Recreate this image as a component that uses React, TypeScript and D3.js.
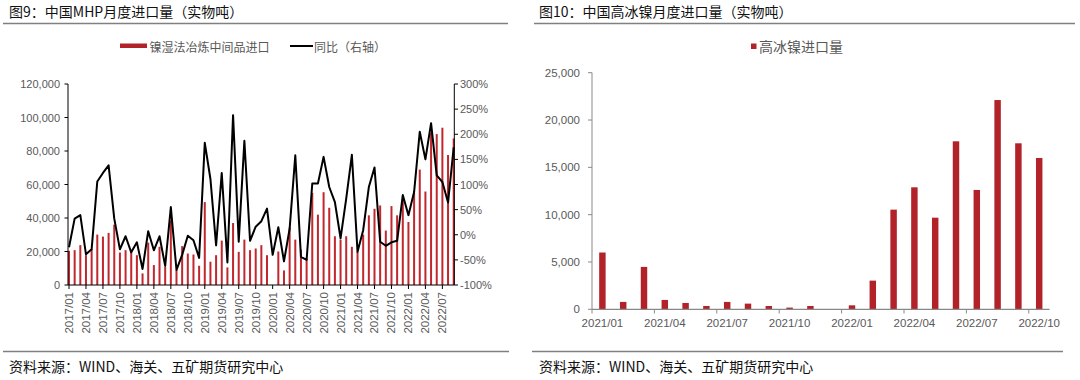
import React from 'react';
import * as d3 from 'd3';

// ---------- Chart 9 data: MHP monthly imports ----------
const mhpMonths = [
  '2017/01','2017/02','2017/03','2017/04','2017/05','2017/06','2017/07','2017/08','2017/09','2017/10','2017/11','2017/12',
  '2018/01','2018/02','2018/03','2018/04','2018/05','2018/06','2018/07','2018/08','2018/09','2018/10','2018/11','2018/12',
  '2019/01','2019/02','2019/03','2019/04','2019/05','2019/06','2019/07','2019/08','2019/09','2019/10','2019/11','2019/12',
  '2020/01','2020/02','2020/03','2020/04','2020/05','2020/06','2020/07','2020/08','2020/09','2020/10','2020/11','2020/12',
  '2021/01','2021/02','2021/03','2021/04','2021/05','2021/06','2021/07','2021/08','2021/09','2021/10','2021/11','2021/12',
  '2022/01','2022/02','2022/03','2022/04','2022/05','2022/06','2022/07','2022/08','2022/09',
];
const mhpImports: (number | null)[] = [
  20400, 20800, 23800, 17800, 21400, 30100, 28900, 31100, 36000, 19400, 20800, 19800,
  17800, 6900, 25300, 11900, 22800, 10900, 38600, 8900, 23200, 18800, 18200, 11500,
  49500, 13900, 17800, 26500, 10500, 37000, 19800, 27100, 20800, 21800, 23800, 17800,
  null, 20000, 8700, 34300, 27100, 21200, 15800, 55000, 42000, 55400, 46100, 29100,
  27100, 29100, 22800, 19800, 30100, 41600, 45500, 47500, 32500, 47100, 41600, 50500,
  37600, 54900, 68900, 55800, 91000, 90100, 93900, 77600, 87500,
];
const mhpYoY = [
  -25, 32, 39, -39, -29, 106, 123, 138, 32, -29, -3, -35,
  -15, -68, 7, -31, -3, -62, 55, -70, -40, -2, -11, -46,
  183, 111, -21, 123, -55, 238, -14, 187, -12, 16, 27, 52,
  -40, 15, -53, 12, 158, -44, -50, 102, 102, 155, 95, 65,
  -7, 72, 159, -34, 9, 95, 134, -14, -22, -15, -12, 79,
  39, 85, 205, 150, 222, 118, 105, 64, 174,
];
const leftTicks = [0, 20000, 40000, 60000, 80000, 100000, 120000];
const rightTicks = [-100, -50, 0, 50, 100, 150, 200, 250, 300];

// ---------- Chart 10 data: high-grade nickel matte imports ----------
const matteMonths = [
  '2021/01','2021/02','2021/03','2021/04','2021/05','2021/06','2021/07','2021/08','2021/09','2021/10','2021/11','2021/12',
  '2022/01','2022/02','2022/03','2022/04','2022/05','2022/06','2022/07','2022/08','2022/09','2022/10',
];
const matteImports = [
  6000, 780, 4480, 990, 670, 350, 780, 600, 350, 180, 350, 0,
  420, 3030, 10530, 12890, 9680, 17750, 12610, 22110, 17540, 15990,
];
const matteTicks = [0, 5000, 10000, 15000, 20000, 25000];

const CJK = '"Noto Sans CJK SC", "Noto Sans", sans-serif';
const NUM = '"Liberation Sans", Arial, sans-serif';
const LABEL = '#595959';
const BAR9 = '#C0282E';
const BAR10 = '#B22229';

export default function App() {
  const fmt = d3.format(',');

  // Chart 9 scales
  const xL = d3.scalePoint<string>().domain(mhpMonths).range([69, 453.7]);
  const yL = d3.scaleLinear().domain([0, 120000]).range([285, 84]);
  const yR = d3.scaleLinear().domain([-100, 300]).range([285, 84]);
  const line = d3
    .line<number>()
    .x((_, i) => xL(mhpMonths[i]) as number)
    .y((d) => yR(d));
  const xTickMonths = mhpMonths.filter((_, i) => i % 3 === 0);

  // Chart 10 scales
  const xB = d3
    .scaleBand<string>()
    .domain(matteMonths)
    .range([592, 1049.6])
    .paddingInner(0.69)
    .paddingOuter(0.345);
  const yB = d3.scaleLinear().domain([0, 25000]).range([309.3, 72.7]);
  const stepB = xB.step();
  const bandTickIdx = matteMonths.map((_, i) => i).filter((i) => i % 3 === 0);

  return (
    <svg
      width={1080}
      height={380}
      style={{ position: 'absolute', left: 0, top: 0, background: '#fff' }}
      fontFamily={CJK}
    >
      <rect x={0} y={0} width={1080} height={380} fill="#fff" />

      {/* Titles */}
      <text x={9} y={17} fontSize={14} fill="#111">图9：中国MHP月度进口量（实物吨）</text>
      <line x1={3} x2={508} y1={23.5} y2={23.5} stroke="#808080" strokeWidth={1.3} />
      <text x={539} y={17} fontSize={14} fill="#111">图10：中国高冰镍月度进口量（实物吨）</text>
      <line x1={534} x2={1075} y1={23.5} y2={23.5} stroke="#808080" strokeWidth={1.3} />

      {/* Chart 9 legend */}
      <rect x={120} y={43.5} width={27} height={4.5} fill={BAR10} />
      <text x={149.5} y={46} fontSize={12} fill={LABEL} dominantBaseline="central">镍湿法冶炼中间品进口</text>
      <line x1={290} x2={313} y1={46} y2={46} stroke="#000" strokeWidth={2} />
      <text x={314} y={46} fontSize={12} fill={LABEL} dominantBaseline="central">同比（右轴）</text>

      {/* Chart 9 bars */}
      {mhpImports.map((v, i) =>
        v == null ? null : (
          <rect
            key={'b' + i}
            x={(xL(mhpMonths[i]) as number) - 1}
            y={yL(v)}
            width={2}
            height={yL(0) - yL(v)}
            fill={BAR9}
          />
        )
      )}
      {/* Chart 9 line */}
      <path d={line(mhpYoY) || ''} fill="none" stroke="#000" strokeWidth={2} strokeLinejoin="round" />

      {/* Chart 9 axes */}
      <line x1={68} x2={68} y1={84} y2={285} stroke="#000" strokeWidth={1} />
      <line x1={454.3} x2={454.3} y1={84} y2={285} stroke="#000" strokeWidth={1} />
      <line x1={68} x2={454.3} y1={285} y2={285} stroke="#000" strokeWidth={1} />
      {leftTicks.map((t) => (
        <g key={'lt' + t}>
          <line x1={64.5} x2={68} y1={yL(t)} y2={yL(t)} stroke="#000" />
          <text x={60} y={yL(t)} fontSize={11} fontFamily={NUM} fill={LABEL} textAnchor="end" dominantBaseline="central">
            {fmt(t)}
          </text>
        </g>
      ))}
      {rightTicks.map((t) => (
        <g key={'rt' + t}>
          <line x1={454.3} x2={458} y1={yR(t)} y2={yR(t)} stroke="#000" />
          <text x={460} y={yR(t)} fontSize={11} fontFamily={NUM} fill={LABEL} dominantBaseline="central">
            {t + '%'}
          </text>
        </g>
      ))}
      {xTickMonths.map((m) => {
        const x = xL(m) as number;
        return (
          <g key={'xt' + m}>
            <line x1={x} x2={x} y1={285} y2={289} stroke="#000" />
            <text
              transform={`translate(${x},292) rotate(-90)`}
              fontSize={11.5}
              fontFamily={NUM}
              fill={LABEL}
              textAnchor="end"
              dominantBaseline="central"
            >
              {m}
            </text>
          </g>
        );
      })}

      {/* Chart 10 legend */}
      <rect x={751} y={43.5} width={5.5} height={5.5} fill={BAR10} />
      <text x={759} y={46} fontSize={14} fill={LABEL} dominantBaseline="central">高冰镍进口量</text>

      {/* Chart 10 bars */}
      {matteImports.map((v, i) => (
        <rect
          key={'m' + i}
          x={xB(matteMonths[i]) as number}
          y={yB(v)}
          width={xB.bandwidth()}
          height={yB(0) - yB(v)}
          fill={BAR10}
        />
      ))}

      {/* Chart 10 axes */}
      <line x1={592} x2={592} y1={72.7} y2={309.3} stroke="#898989" strokeWidth={1} />
      <line x1={592} x2={1049.6} y1={309.3} y2={309.3} stroke="#898989" strokeWidth={1.3} />
      {matteTicks.map((t) => (
        <g key={'mt' + t}>
          <line x1={588} x2={592} y1={yB(t)} y2={yB(t)} stroke="#898989" />
          <text x={580} y={yB(t)} fontSize={11.5} fontFamily={NUM} fill={LABEL} textAnchor="end" dominantBaseline="central">
            {fmt(t)}
          </text>
        </g>
      ))}
      {bandTickIdx.map((i) => {
        const xt = 592 + i * stepB;
        const xc = (xB(matteMonths[i]) as number) + xB.bandwidth() / 2;
        return (
          <g key={'bx' + i}>
            <line x1={xt} x2={xt} y1={309.3} y2={313.5} stroke="#898989" />
            <text x={xc} y={323} fontSize={11.5} fontFamily={NUM} fill={LABEL} textAnchor="middle" dominantBaseline="central">
              {matteMonths[i]}
            </text>
          </g>
        );
      })}

      {/* Source lines */}
      <line x1={3} x2={509} y1={351.5} y2={351.5} stroke="#808080" strokeWidth={1.3} />
      <line x1={532} x2={1063} y1={351.5} y2={351.5} stroke="#808080" strokeWidth={1.3} />
      <text x={9} y={366} fontSize={14} fill="#111" dominantBaseline="central">资料来源：WIND、海关、五矿期货研究中心</text>
      <text x={539} y={366} fontSize={14} fill="#111" dominantBaseline="central">资料来源：WIND、海关、五矿期货研究中心</text>
    </svg>
  );
}
